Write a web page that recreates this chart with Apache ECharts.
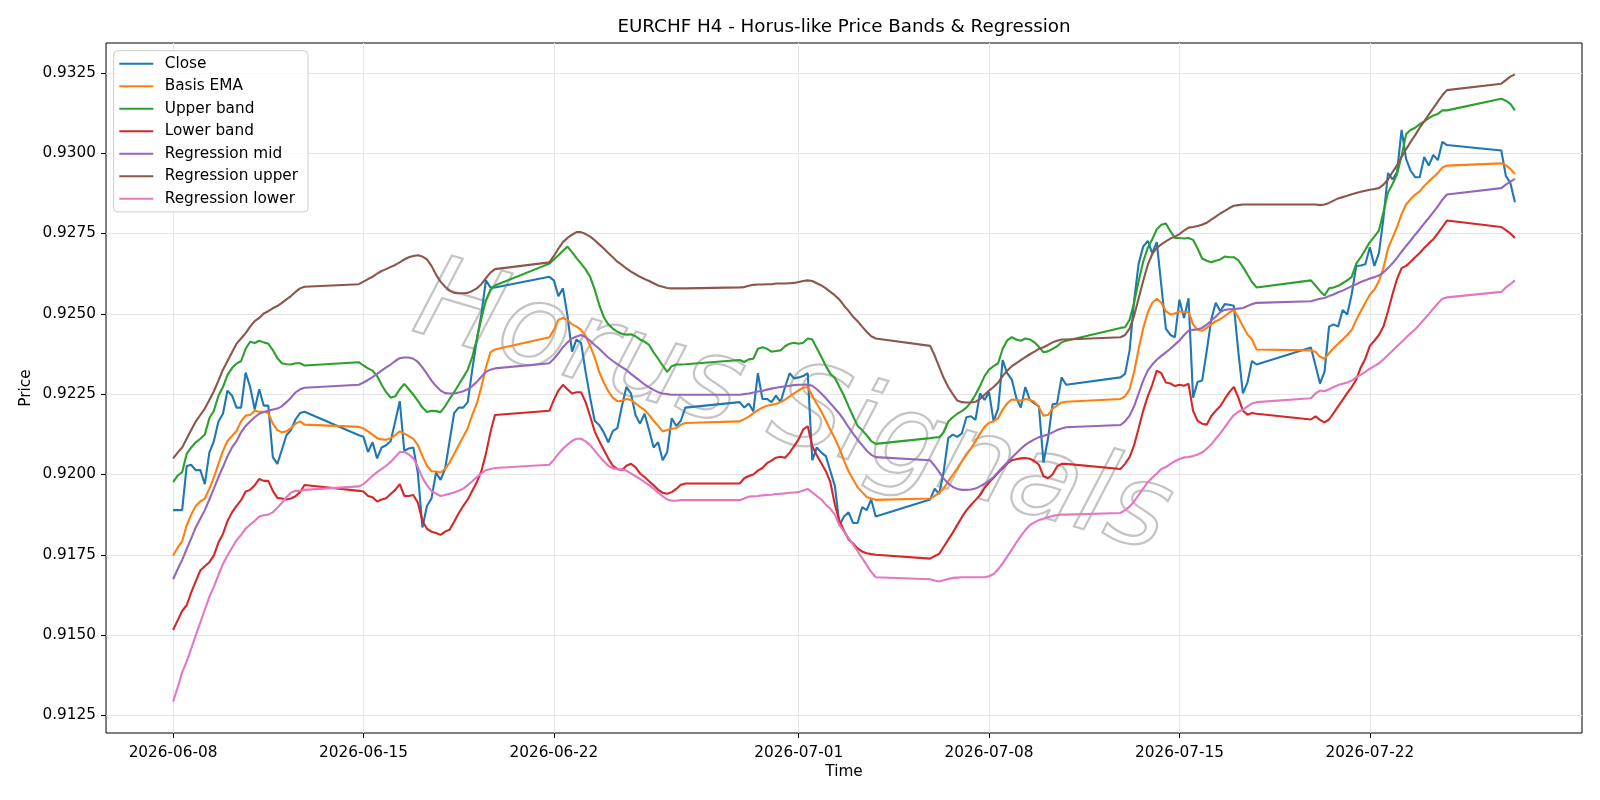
<!DOCTYPE html>
<html>
<head>
<meta charset="utf-8">
<script src="https://cdn.jsdelivr.net/npm/echarts@6/dist/echarts.min.js"></script>
<style>
html,body{margin:0;padding:0;background:#ffffff;}
#chart{width:1600px;height:800px;}
</style>
</head>
<body>
<div id="chart"></div>
<script>
// ---- Bar sessions (H4 bars, 4-hour step) ----
const sessionStarts = ['2026-06-08T00:00:00Z','2026-06-14T20:00:00Z','2026-06-21T20:00:00Z','2026-06-28T20:00:00Z',
                       '2026-07-05T20:00:00Z','2026-07-12T20:00:00Z','2026-07-19T20:00:00Z','2026-07-26T20:00:00Z'];
const sessionBars = [30, 31, 31, 31, 31, 31, 31, 4];

// ---- Tick labels ----
const xTickLabels = ['2026-06-08','2026-06-15','2026-06-22','2026-07-01','2026-07-08','2026-07-15','2026-07-22'];
const yTickLabels = ['0.9125','0.9150','0.9175','0.9200','0.9225','0.9250','0.9275','0.9300','0.9325'];

// ---- Series values ----
const closeVals = [
 0.91889,0.91889,0.91889,0.92026,0.92030,0.92013,0.92014,0.91970,0.92068,0.92104,0.92165,0.92189,0.92261,0.92245,0.92208,0.92208,0.92317,0.92272,0.92202,0.92265,0.92214,0.92214,0.92054,0.92033,0.92077,0.92122,0.92138,0.92171,0.92191,0.92195,
 0.92122,0.92117,0.92070,0.92100,0.92050,0.92084,0.92091,0.92104,0.92165,0.92228,0.92073,0.92081,0.92084,0.92004,0.91835,0.91902,0.91925,0.92006,0.91983,0.92017,0.92104,0.92191,0.92208,0.92208,0.92225,0.92326,0.92420,0.92498,0.92604,0.92582,0.92582,
 0.92615,0.92604,0.92555,0.92579,0.92494,0.92382,0.92420,0.92409,0.92319,0.92239,0.92167,0.92154,0.92131,0.92100,0.92135,0.92144,0.92212,0.92272,0.92252,0.92185,0.92158,0.92189,0.92138,0.92084,0.92100,0.92044,0.92070,0.92175,0.92151,0.92167,0.92208,
 0.92225,0.92208,0.92221,0.92196,0.92315,0.92235,0.92235,0.92225,0.92245,0.92225,0.92272,0.92315,0.92299,0.92302,0.92306,0.92315,0.92044,0.92084,0.92068,0.92057,0.92010,0.91963,0.91842,0.91869,0.91882,0.91849,0.91849,0.91898,0.91889,0.91922,0.91869,
 0.91922,0.91956,0.91939,0.92010,0.92113,0.92124,0.92117,0.92128,0.92178,0.92181,0.92170,0.92252,0.92232,0.92256,0.92165,0.92205,0.92356,0.92315,0.92296,0.92239,0.92208,0.92272,0.92232,0.92221,0.92212,0.92037,0.92111,0.92218,0.92221,0.92302,0.92279,
 0.92302,0.92313,0.92386,0.92541,0.92656,0.92709,0.92727,0.92689,0.92723,0.92588,0.92454,0.92434,0.92427,0.92544,0.92487,0.92548,0.92239,0.92288,0.92292,0.92382,0.92481,0.92534,0.92508,0.92530,0.92528,0.92525,0.92380,0.92252,0.92286,0.92353,0.92342,
 0.92395,0.92340,0.92283,0.92319,0.92460,0.92467,0.92460,0.92512,0.92498,0.92561,0.92649,0.92650,0.92654,0.92707,0.92649,0.92689,0.92797,0.92938,0.92918,0.92941,0.93072,0.92982,0.92945,0.92925,0.92925,0.92988,0.92961,0.92994,0.92978,0.93035,0.93025,
 0.93008,0.92929,0.92907,0.92847
];
const basisVals = [
 0.91748,0.91772,0.91792,0.91842,0.91875,0.91902,0.91916,0.91925,0.91956,0.91990,0.92033,0.92073,0.92104,0.92120,0.92135,0.92165,0.92183,0.92185,0.92198,0.92195,0.92195,0.92191,0.92158,0.92138,0.92131,0.92134,0.92144,0.92158,0.92165,0.92155,
 0.92148,0.92143,0.92134,0.92124,0.92113,0.92109,0.92108,0.92113,0.92122,0.92134,0.92127,0.92119,0.92111,0.92091,0.92057,0.92027,0.92010,0.92009,0.92006,0.92017,0.92037,0.92064,0.92091,0.92117,0.92144,0.92185,0.92221,0.92272,0.92333,0.92380,0.92389,
 0.92427,0.92450,0.92481,0.92487,0.92481,0.92467,0.92460,0.92450,0.92431,0.92400,0.92364,0.92319,0.92286,0.92259,0.92239,0.92228,0.92229,0.92235,0.92232,0.92221,0.92210,0.92201,0.92185,0.92167,0.92151,0.92134,0.92138,0.92142,0.92144,0.92155,0.92160,
 0.92165,0.92172,0.92180,0.92190,0.92200,0.92208,0.92214,0.92217,0.92219,0.92225,0.92233,0.92243,0.92252,0.92262,0.92270,0.92272,0.92245,0.92220,0.92196,0.92168,0.92138,0.92112,0.92080,0.92043,0.92010,0.91985,0.91960,0.91945,0.91930,0.91925,0.91921,
 0.91925,0.91933,0.91943,0.91956,0.91979,0.91999,0.92019,0.92041,0.92061,0.92081,0.92103,0.92127,0.92148,0.92161,0.92165,0.92175,0.92202,0.92221,0.92233,0.92232,0.92229,0.92235,0.92232,0.92226,0.92209,0.92183,0.92185,0.92205,0.92214,0.92224,0.92226,
 0.92235,0.92243,0.92265,0.92319,0.92391,0.92454,0.92504,0.92534,0.92547,0.92534,0.92508,0.92498,0.92501,0.92508,0.92504,0.92506,0.92467,0.92450,0.92447,0.92456,0.92467,0.92477,0.92483,0.92493,0.92504,0.92512,0.92488,0.92461,0.92436,0.92420,0.92389,
 0.92386,0.92382,0.92366,0.92360,0.92377,0.92393,0.92407,0.92420,0.92434,0.92450,0.92481,0.92508,0.92534,0.92559,0.92575,0.92602,0.92642,0.92703,0.92736,0.92770,0.92810,0.92840,0.92857,0.92871,0.92881,0.92898,0.92912,0.92925,0.92938,0.92955,0.92961,
 0.92968,0.92962,0.92951,0.92935
];
const upperVals = [
 0.91976,0.91996,0.92007,0.92064,0.92084,0.92100,0.92111,0.92124,0.92175,0.92198,0.92245,0.92272,0.92310,0.92331,0.92345,0.92353,0.92391,0.92413,0.92409,0.92416,0.92411,0.92407,0.92387,0.92362,0.92346,0.92343,0.92342,0.92346,0.92346,0.92339,
 0.92349,0.92339,0.92330,0.92323,0.92306,0.92279,0.92256,0.92239,0.92243,0.92265,0.92282,0.92265,0.92248,0.92229,0.92208,0.92194,0.92198,0.92197,0.92194,0.92212,0.92235,0.92256,0.92279,0.92302,0.92326,0.92366,0.92420,0.92485,0.92541,0.92575,0.92588,
 0.92656,0.92669,0.92682,0.92696,0.92709,0.92692,0.92673,0.92656,0.92638,0.92615,0.92575,0.92528,0.92490,0.92467,0.92454,0.92444,0.92438,0.92435,0.92436,0.92430,0.92420,0.92413,0.92403,0.92380,0.92360,0.92339,0.92319,0.92337,0.92342,0.92342,0.92343,
 0.92356,0.92350,0.92358,0.92360,0.92391,0.92396,0.92391,0.92382,0.92384,0.92386,0.92399,0.92407,0.92410,0.92407,0.92410,0.92423,0.92420,0.92393,0.92366,0.92337,0.92313,0.92300,0.92272,0.92245,0.92212,0.92181,0.92151,0.92138,0.92122,0.92104,0.92095,
 0.92113,0.92115,0.92116,0.92131,0.92165,0.92178,0.92189,0.92197,0.92208,0.92225,0.92248,0.92275,0.92306,0.92326,0.92337,0.92346,0.92391,0.92417,0.92427,0.92420,0.92416,0.92423,0.92420,0.92411,0.92397,0.92380,0.92383,0.92391,0.92399,0.92411,0.92416,
 0.92456,0.92458,0.92481,0.92535,0.92602,0.92662,0.92705,0.92732,0.92763,0.92777,0.92781,0.92757,0.92736,0.92736,0.92734,0.92736,0.92730,0.92703,0.92672,0.92665,0.92660,0.92665,0.92669,0.92678,0.92676,0.92676,0.92666,0.92646,0.92622,0.92599,0.92582,
 0.92604,0.92588,0.92571,0.92557,0.92579,0.92582,0.92587,0.92595,0.92604,0.92615,0.92656,0.92676,0.92699,0.92723,0.92740,0.92759,0.92817,0.92877,0.92904,0.92934,0.92992,0.93059,0.93072,0.93079,0.93090,0.93099,0.93109,0.93117,0.93122,0.93133,0.93133,
 0.93169,0.93163,0.93153,0.93133
];
const lowerVals = [
 0.91516,0.91546,0.91575,0.91593,0.91633,0.91667,0.91701,0.91714,0.91727,0.91748,0.91788,0.91815,0.91855,0.91882,0.91902,0.91920,0.91947,0.91952,0.91966,0.91986,0.91980,0.91980,0.91949,0.91927,0.91925,0.91922,0.91925,0.91932,0.91945,0.91967,
 0.91949,0.91947,0.91933,0.91929,0.91916,0.91922,0.91926,0.91939,0.91952,0.91970,0.91933,0.91933,0.91936,0.91912,0.91855,0.91831,0.91822,0.91818,0.91812,0.91822,0.91828,0.91853,0.91879,0.91902,0.91922,0.91949,0.91976,0.92010,0.92064,0.92131,0.92185,
 0.92198,0.92232,0.92261,0.92279,0.92265,0.92252,0.92256,0.92256,0.92225,0.92181,0.92134,0.92104,0.92077,0.92050,0.92027,0.92017,0.92013,0.92027,0.92033,0.92023,0.92003,0.91992,0.91979,0.91966,0.91952,0.91943,0.91940,0.91945,0.91955,0.91968,0.91972,
 0.91972,0.91988,0.91995,0.92000,0.92012,0.92020,0.92035,0.92043,0.92052,0.92055,0.92052,0.92068,0.92088,0.92110,0.92140,0.92150,0.92088,0.92060,0.92035,0.92010,0.91975,0.91905,0.91855,0.91825,0.91798,0.91785,0.91770,0.91760,0.91755,0.91752,0.91750,
 0.91738,0.91746,0.91753,0.91775,0.91797,0.91819,0.91843,0.91867,0.91888,0.91905,0.91920,0.91935,0.91958,0.91975,0.91990,0.92005,0.92019,0.92034,0.92044,0.92047,0.92050,0.92051,0.92049,0.92042,0.92030,0.91995,0.91988,0.92000,0.92025,0.92033,0.92033,
 0.92017,0.92033,0.92054,0.92091,0.92144,0.92198,0.92243,0.92279,0.92323,0.92315,0.92286,0.92283,0.92275,0.92279,0.92276,0.92282,0.92198,0.92167,0.92158,0.92155,0.92181,0.92198,0.92212,0.92235,0.92256,0.92272,0.92239,0.92198,0.92186,0.92191,0.92189,
 0.92171,0.92181,0.92170,0.92162,0.92171,0.92191,0.92212,0.92232,0.92253,0.92272,0.92295,0.92333,0.92360,0.92400,0.92416,0.92434,0.92460,0.92508,0.92561,0.92608,0.92642,0.92649,0.92662,0.92676,0.92689,0.92705,0.92719,0.92732,0.92750,0.92770,0.92790,
 0.92770,0.92760,0.92750,0.92736
];
const regMidVals = [
 0.91674,0.91705,0.91734,0.91768,0.91801,0.91835,0.91862,0.91889,0.91922,0.91956,0.91992,0.92023,0.92057,0.92084,0.92104,0.92131,0.92151,0.92165,0.92178,0.92189,0.92194,0.92198,0.92202,0.92205,0.92212,0.92225,0.92239,0.92255,0.92265,0.92270,
 0.92279,0.92286,0.92294,0.92303,0.92313,0.92323,0.92333,0.92342,0.92353,0.92362,0.92364,0.92364,0.92360,0.92350,0.92333,0.92313,0.92292,0.92275,0.92261,0.92253,0.92252,0.92252,0.92255,0.92259,0.92265,0.92275,0.92288,0.92304,0.92319,0.92326,0.92330,
 0.92346,0.92360,0.92377,0.92396,0.92411,0.92423,0.92429,0.92434,0.92427,0.92416,0.92403,0.92391,0.92377,0.92364,0.92353,0.92343,0.92334,0.92325,0.92313,0.92302,0.92291,0.92280,0.92271,0.92263,0.92256,0.92252,0.92250,0.92248,0.92248,0.92248,0.92248,
 0.92248,0.92250,0.92252,0.92255,0.92258,0.92260,0.92264,0.92267,0.92270,0.92272,0.92274,0.92276,0.92278,0.92279,0.92279,0.92280,0.92276,0.92265,0.92252,0.92237,0.92221,0.92205,0.92189,0.92169,0.92147,0.92127,0.92108,0.92091,0.92074,0.92061,0.92054,
 0.92044,0.92027,0.92007,0.91987,0.91972,0.91961,0.91955,0.91952,0.91952,0.91953,0.91956,0.91963,0.91971,0.91980,0.91992,0.92007,0.92023,0.92037,0.92052,0.92066,0.92080,0.92092,0.92101,0.92109,0.92116,0.92120,0.92124,0.92131,0.92138,0.92143,0.92147,
 0.92154,0.92165,0.92183,0.92212,0.92252,0.92292,0.92323,0.92342,0.92357,0.92369,0.92380,0.92391,0.92404,0.92417,0.92433,0.92447,0.92450,0.92452,0.92456,0.92466,0.92478,0.92491,0.92505,0.92512,0.92514,0.92515,0.92516,0.92518,0.92524,0.92530,0.92534,
 0.92539,0.92543,0.92547,0.92549,0.92555,0.92560,0.92567,0.92572,0.92579,0.92586,0.92592,0.92599,0.92604,0.92610,0.92614,0.92619,0.92629,0.92642,0.92657,0.92674,0.92693,0.92711,0.92728,0.92746,0.92763,0.92781,0.92798,0.92816,0.92834,0.92855,0.92871,
 0.92891,0.92902,0.92911,0.92920
];
const regUpperVals = [
 0.92050,0.92068,0.92084,0.92111,0.92138,0.92165,0.92185,0.92205,0.92232,0.92259,0.92292,0.92326,0.92353,0.92380,0.92407,0.92423,0.92440,0.92460,0.92477,0.92487,0.92501,0.92508,0.92517,0.92524,0.92534,0.92545,0.92555,0.92568,0.92579,0.92584,
 0.92592,0.92600,0.92608,0.92615,0.92625,0.92633,0.92639,0.92646,0.92652,0.92660,0.92669,0.92676,0.92680,0.92682,0.92678,0.92669,0.92649,0.92622,0.92600,0.92584,0.92572,0.92565,0.92564,0.92564,0.92565,0.92571,0.92579,0.92592,0.92611,0.92628,0.92639,
 0.92660,0.92680,0.92703,0.92723,0.92736,0.92746,0.92754,0.92754,0.92748,0.92740,0.92729,0.92716,0.92703,0.92689,0.92676,0.92662,0.92652,0.92641,0.92631,0.92623,0.92615,0.92608,0.92602,0.92595,0.92588,0.92584,0.92580,0.92579,0.92579,0.92579,0.92579,
 0.92582,0.92583,0.92587,0.92590,0.92591,0.92591,0.92592,0.92592,0.92594,0.92594,0.92594,0.92595,0.92596,0.92599,0.92602,0.92604,0.92602,0.92595,0.92588,0.92579,0.92568,0.92557,0.92544,0.92525,0.92509,0.92491,0.92477,0.92460,0.92444,0.92430,0.92423,
 0.92400,0.92370,0.92335,0.92300,0.92272,0.92250,0.92230,0.92225,0.92224,0.92224,0.92226,0.92235,0.92248,0.92261,0.92272,0.92286,0.92306,0.92323,0.92337,0.92346,0.92356,0.92365,0.92374,0.92382,0.92391,0.92396,0.92403,0.92411,0.92416,0.92420,0.92420,
 0.92427,0.92434,0.92454,0.92494,0.92548,0.92602,0.92652,0.92686,0.92705,0.92716,0.92725,0.92734,0.92740,0.92748,0.92759,0.92768,0.92770,0.92773,0.92777,0.92783,0.92793,0.92802,0.92812,0.92820,0.92829,0.92836,0.92838,0.92840,0.92840,0.92840,0.92840,
 0.92840,0.92840,0.92838,0.92840,0.92845,0.92852,0.92859,0.92863,0.92867,0.92872,0.92876,0.92880,0.92883,0.92886,0.92888,0.92891,0.92902,0.92918,0.92941,0.92962,0.92988,0.93012,0.93035,0.93056,0.93079,0.93099,0.93120,0.93140,0.93160,0.93180,0.93196,
 0.93216,0.93227,0.93238,0.93245
];
const regLowerVals = [
 0.91293,0.91337,0.91384,0.91418,0.91458,0.91499,0.91539,0.91579,0.91619,0.91651,0.91687,0.91721,0.91748,0.91772,0.91795,0.91812,0.91831,0.91844,0.91855,0.91869,0.91873,0.91875,0.91882,0.91896,0.91912,0.91929,0.91943,0.91949,0.91949,0.91952,
 0.91963,0.91970,0.91983,0.91996,0.92007,0.92017,0.92027,0.92039,0.92054,0.92070,0.92070,0.92062,0.92050,0.92023,0.91990,0.91966,0.91949,0.91940,0.91933,0.91936,0.91940,0.91944,0.91949,0.91956,0.91967,0.91979,0.91992,0.92003,0.92013,0.92017,0.92020,
 0.92030,0.92046,0.92064,0.92080,0.92093,0.92104,0.92111,0.92111,0.92103,0.92091,0.92074,0.92057,0.92041,0.92027,0.92019,0.92017,0.92015,0.92012,0.92003,0.91995,0.91986,0.91976,0.91967,0.91956,0.91943,0.91932,0.91922,0.91918,0.91918,0.91920,0.91920,
 0.91920,0.91925,0.91931,0.91932,0.91933,0.91935,0.91936,0.91937,0.91939,0.91940,0.91941,0.91943,0.91944,0.91945,0.91950,0.91955,0.91944,0.91933,0.91922,0.91906,0.91893,0.91875,0.91842,0.91822,0.91802,0.91782,0.91761,0.91740,0.91718,0.91697,0.91680,
 0.91674,0.91670,0.91667,0.91671,0.91675,0.91678,0.91679,0.91680,0.91680,0.91680,0.91680,0.91680,0.91680,0.91683,0.91690,0.91705,0.91723,0.91744,0.91765,0.91788,0.91808,0.91827,0.91842,0.91851,0.91858,0.91862,0.91867,0.91871,0.91874,0.91875,0.91875,
 0.91880,0.91889,0.91900,0.91916,0.91936,0.91956,0.91976,0.91990,0.92003,0.92017,0.92023,0.92033,0.92041,0.92048,0.92053,0.92054,0.92057,0.92062,0.92068,0.92080,0.92093,0.92111,0.92128,0.92147,0.92167,0.92185,0.92195,0.92202,0.92212,0.92221,0.92225,
 0.92237,0.92252,0.92261,0.92259,0.92265,0.92272,0.92278,0.92282,0.92286,0.92292,0.92302,0.92310,0.92319,0.92329,0.92337,0.92346,0.92358,0.92372,0.92385,0.92399,0.92412,0.92426,0.92439,0.92452,0.92467,0.92483,0.92499,0.92516,0.92532,0.92547,0.92551,
 0.92568,0.92582,0.92592,0.92604
];

const seriesNames = ['Close','Basis EMA','Upper band','Lower band','Regression mid','Regression upper','Regression lower'];
const seriesColors = ['#1f77b4','#ff7f0e','#2ca02c','#d62728','#9467bd','#8c564b','#e377c2'];
const seriesValues = [closeVals, basisVals, upperVals, lowerVals, regMidVals, regUpperVals, regLowerVals];

// ---- Build time stamps ----
const HOUR = 3600 * 1000;
const times = [];
sessionStarts.forEach(function (s, k) {
  const t0 = Date.parse(s);
  for (let i = 0; i < sessionBars[k]; i++) times.push(t0 + i * 4 * HOUR);
});

// axis ranges with 5% margins (as the source plot)
const tMin = times[0], tMax = times[times.length - 1];
const xPad = (tMax - tMin) * 0.05;
let vMin = Infinity, vMax = -Infinity;
seriesValues.forEach(function (arr) { arr.forEach(function (v) { if (v < vMin) vMin = v; if (v > vMax) vMax = v; }); });
const yPad = (vMax - vMin) * 0.05;

const xTickVals = xTickLabels.map(function (s) { return Date.parse(s + 'T00:00:00Z'); });
const yTickVals = yTickLabels.map(Number);

function pad2(n) { return (n < 10 ? '0' : '') + n; }
function fmtDate(v) {
  const d = new Date(v);
  return d.getUTCFullYear() + '-' + pad2(d.getUTCMonth() + 1) + '-' + pad2(d.getUTCDate());
}

const FONT = 'DejaVu Sans';
const chart = echarts.init(document.getElementById('chart'), null, { renderer: 'canvas' });

const series = seriesNames.map(function (name, k) {
  const vals = seriesValues[k];
  const n = Math.min(vals.length, times.length);
  const data = [];
  for (let i = 0; i < n; i++) data.push([times[i], vals[i]]);
  return {
    name: name, type: 'line', data: data, showSymbol: false, symbol: 'none',
    color: seriesColors[k],
    lineStyle: { color: seriesColors[k], width: 2.1 },
    emphasis: { disabled: true }, z: 3 + k, animation: false
  };
});

chart.setOption({
  animation: false,
  backgroundColor: '#ffffff',
  grid: { left: 106, top: 43, width: 1476, height: 690, show: true, borderColor: '#000000', borderWidth: 1, backgroundColor: 'transparent', containLabel: false },
  xAxis: {
    type: 'value', min: tMin - xPad, max: tMax + xPad,
    axisLine: { show: false },
    axisTick: { show: true, length: 5, lineStyle: { color: '#000', width: 1 }, customValues: xTickVals },
    axisLabel: { customValues: xTickVals, formatter: fmtDate, margin: 13, color: '#000', fontSize: 15.3, fontFamily: FONT },
    splitLine: { show: true, lineStyle: { color: '#e6e6e6', width: 1 } }
  },
  yAxis: {
    type: 'value', min: vMin - yPad, max: vMax + yPad,
    axisLine: { show: false },
    axisTick: { show: true, length: 5, lineStyle: { color: '#000', width: 1 }, customValues: yTickVals },
    axisLabel: { customValues: yTickVals, formatter: function (v) { return v.toFixed(4); }, margin: 10, color: '#000', fontSize: 15.3, fontFamily: FONT },
    splitLine: { show: true, lineStyle: { color: '#e6e6e6', width: 1 } }
  },
  legend: {
    show: true, orient: 'vertical', left: 113.7, top: 50.7,
    data: seriesNames, icon: 'rect', itemWidth: 34, itemHeight: 2, itemGap: 6.5,
    padding: [5, 10, 5.2, 5.6],
    backgroundColor: 'rgba(255,255,255,0.8)', borderColor: '#cccccc', borderWidth: 1, borderRadius: 4,
    textStyle: { fontSize: 15.3, fontFamily: FONT, color: '#000', lineHeight: 16, padding: [0, 0, 0, 6.4] },
    selectedMode: false, z: 20
  },
  graphic: [
    { type: 'text', x: 844, y: 27, z: 30,
      style: { text: 'EURCHF H4 - Horus-like Price Bands & Regression', fill: '#000', font: '18.3px "DejaVu Sans"', textAlign: 'center', verticalAlign: 'middle' } },
    { type: 'text', x: 844, y: 772, z: 30,
      style: { text: 'Time', fill: '#000', font: '15.3px "DejaVu Sans"', textAlign: 'center', verticalAlign: 'middle' } },
    { type: 'text', x: 26, y: 388, rotation: Math.PI / 2, z: 30,
      style: { text: 'Price', fill: '#000', font: '15.3px "DejaVu Sans"', textAlign: 'center', verticalAlign: 'middle' } },
    { type: 'text', x: 792, y: 412, rotation: -0.288, z: 1, silent: true,
      style: { text: 'Horus Signals', fill: 'rgba(255,255,255,0)', stroke: '#c4c4c4', lineWidth: 2.2,
               font: 'italic 114px "DejaVu Sans"', textAlign: 'center', verticalAlign: 'middle',
               shadowColor: 'rgba(0,0,0,0.18)', shadowBlur: 2, shadowOffsetX: 2, shadowOffsetY: 2 } }
  ],
  series: series
});
</script>
</body>
</html>
